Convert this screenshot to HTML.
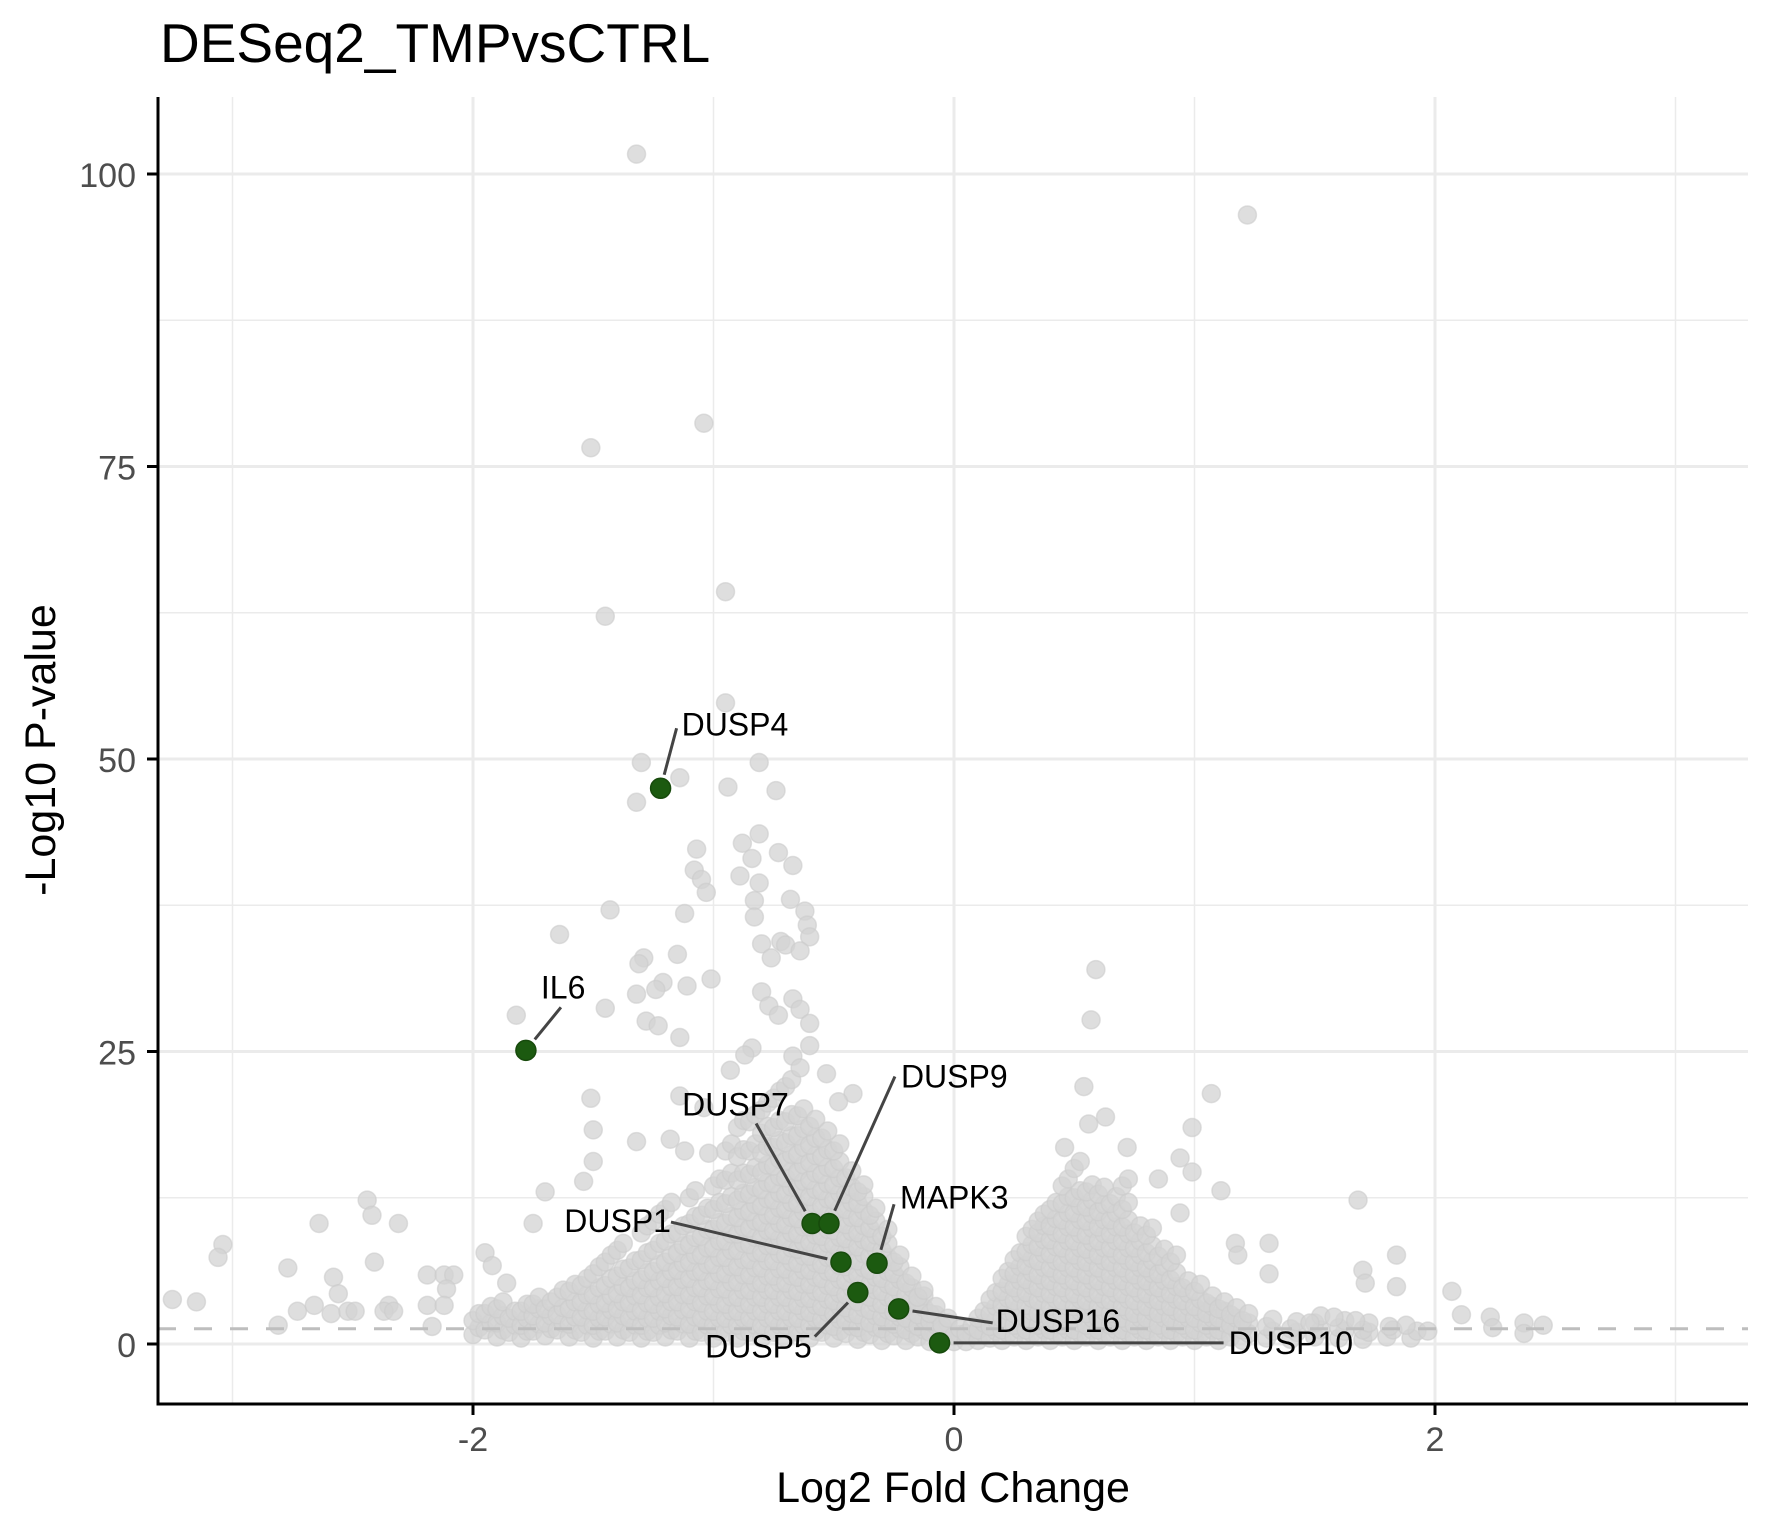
<!DOCTYPE html>
<html><head><meta charset="utf-8"><style>
html,body{margin:0;padding:0;background:#fff}
svg{display:block}
text{font-family:"Liberation Sans",Arial,sans-serif}
</style></head><body>
<svg id="chart" width="1771" height="1535" viewBox="0 0 1771 1535" xmlns="http://www.w3.org/2000/svg">
<text x="160" y="62" font-size="55" fill="#000">DESeq2_TMPvsCTRL</text>
<g id="grid"></g>
<g id="pts"></g>
<g id="hl"></g>
<g id="axes"></g>
<text x="953" y="1502" font-size="43" text-anchor="middle" fill="#000">Log2 Fold Change</text>
<text transform="translate(55,750) rotate(-90)" font-size="43" text-anchor="middle" fill="#000">-Log10 P-value</text>
</svg>
<script>
const xTicks=[-2,0,2];
const xMinor=[-3,-1,1,3];
const yTicks=[0,25,50,75,100];
const yMinor=[12.5,37.5,62.5,87.5];
const pThreshold=1.3;
const outlierX=[-1.32,1.22,-1.04,-1.51,-0.95,-1.45,-0.95,-0.81,-1.30,-0.94,-0.74,-1.32,-1.14,-0.81,-1.07,-0.88,-0.73,-0.84,-0.67,-1.08,-1.05,-0.81,-0.89,-1.03,-0.83,-0.68,-1.43,-1.12,-0.62,-0.83,-0.61,-1.64,-0.60,-0.80,-0.72,-0.70,-1.15,-1.29,-1.31,-0.64,-0.76,0.59,-1.21,-1.01,-1.32,-1.11,-1.24,-0.80,-0.67,-1.45,-1.82,0.57,-0.77,-0.64,-0.60,-1.28,-1.23,-1.14,-0.73,-0.60,-0.84,-0.87,-0.67,-0.93,-0.53,-0.64,0.54,1.07,-0.42,-1.51,-1.14,-1.04,-0.48,0.63,0.56,0.99,-1.50,-1.32,-1.18,-1.12,0.46,0.72,0.94,-1.50,-1.02,0.99,-1.54,0.85,-1.70,1.11,1.68,-2.44,-2.42,-2.31,-2.64,-1.75,0.94,1.17,1.31,-3.04,-3.06,-2.41,-2.77,1.18,1.70,1.84,1.71,1.84,2.07,1.31,-3.25,-3.15,-2.58,-2.56,-2.81,-2.73,-2.66,-2.59,-2.52,-2.49,-2.35,-2.37,-2.33,-2.19,-2.12,-2.08,-2.11,-2.19,-2.12,-1.95,-1.92,-1.86,-2.17,2.11,2.23,2.24,2.37,2.45,2.37,1.97,1.81,1.88,1.58,1.67,1.48];
const outlierY=[101.7,96.5,78.7,76.6,64.3,62.2,54.8,49.7,49.7,47.6,47.3,46.3,48.4,43.6,42.3,42.8,42,41.5,40.9,40.5,39.7,39.4,40,38.6,37.9,38,37.1,36.8,37,36.5,35.8,35,34.8,34.2,34.4,34.1,33.3,33,32.5,33.6,33,32,30.9,31.2,29.9,30.6,30.3,30.1,29.5,28.7,28.1,27.7,28.9,28.6,27.4,27.6,27.2,26.2,28.1,25.5,25.3,24.7,24.6,23.4,23.1,23.6,22,21.4,21.4,21,21.2,20.2,20.7,19.4,18.8,18.5,18.3,17.3,17.5,16.5,16.8,16.8,15.9,15.6,16.3,14.7,13.9,14.1,13,13.1,12.3,12.3,11,10.3,10.3,10.3,11.2,8.6,8.6,8.5,7.4,7,6.5,7.6,6.3,7.6,5.2,4.9,4.5,6,3.8,3.6,5.7,4.3,1.6,2.8,3.3,2.6,2.8,2.8,3.3,2.8,2.8,5.9,5.9,5.9,4.7,3.3,3.3,7.8,6.7,5.2,1.5,2.5,2.3,1.4,1.8,1.6,0.9,1.1,1.5,1.6,2.3,2,1.8];
const colX=[-2.0,-1.95,-1.9,-1.85,-1.8,-1.75,-1.7,-1.65,-1.6,-1.55,-1.5,-1.45,-1.4,-1.35,-1.3,-1.25,-1.2,-1.15,-1.1,-1.05,-1.0,-0.95,-0.9,-0.85,-0.8,-0.75,-0.7,-0.65,-0.6,-0.55,-0.5,-0.45,-0.4,-0.35,-0.3,-0.25,-0.2,-0.15,-0.1,-0.05,0.0,0.05,0.1,0.15,0.2,0.25,0.3,0.35,0.4,0.45,0.5,0.55,0.6,0.65,0.7,0.75,0.8,0.85,0.9,0.95,1.0,1.05,1.1,1.15,1.2,1.3,1.4,1.5,1.6,1.7,1.8,1.9];
const colY=[[0.8,2.0],[1.2,2.6],[0.6,1.8,3.0],[1.0,2.2],[0.5,1.6,2.8],[1.1,2.4,3.4],[0.7,1.8,3.0],[1.2,2.5,4.0],[0.6,1.7,3.0,4.5],[1.0,2.3,3.6,5.0],[0.5,1.6,2.8,4.2,6.0],[1.1,2.3,3.5,5.0,7.0],[0.6,1.8,3.0,4.3,5.8,8.0],[1.0,2.2,3.5,4.8,6.5],[0.5,1.6,2.9,4.2,5.5,7.2,9.5],[1.0,2.2,3.4,4.8,6.2,8.0,10.5],[0.6,1.8,3.0,4.3,5.6,7.0,8.8,11.5],[1.1,2.3,3.6,4.9,6.3,7.8,9.5],[0.5,1.7,3.0,4.2,5.6,7.0,8.5,10.3,12.5],[1.0,2.2,3.5,4.8,6.2,7.6,9.2,11.0],[0.5,1.6,2.8,4.1,5.4,6.8,8.2,9.8,11.5,13.5],[1.0,2.2,3.4,4.7,6.0,7.4,8.8,10.3,12.0,14.0,16.5],[0.5,1.6,2.8,4.0,5.3,6.6,8.0,9.4,10.8,12.3,14.0,16.0,18.5],[1.0,2.2,3.4,4.6,5.9,7.2,8.5,9.9,11.3,12.8,14.5,16.5,19.0],[0.5,1.6,2.8,4.0,5.2,6.5,7.8,9.1,10.4,11.8,13.2,14.7,16.3,18.0,20.0],[1.0,2.2,3.4,4.6,5.8,7.1,8.4,9.7,11.0,12.3,13.7,15.2,16.8,18.5,21.0],[0.5,1.6,2.8,4.0,5.2,6.4,7.6,8.9,10.2,11.5,12.8,14.2,15.6,17.2,19.0,22.0],[1.0,2.2,3.3,4.5,5.7,6.9,8.1,9.4,10.7,12.0,13.3,14.7,16.2,17.8,19.5],[0.5,1.6,2.7,3.9,5.1,6.3,7.5,8.7,10.0,11.3,12.6,14.0,15.5,17.0,18.6],[1.0,2.1,3.2,4.4,5.6,6.8,8.0,9.2,10.5,11.8,13.1,14.5,16.0,17.6],[0.5,1.5,2.6,3.7,4.9,6.1,7.3,8.5,9.7,11.0,12.3,13.6,15.0,16.5],[0.9,2.0,3.1,4.2,5.4,6.6,7.8,9.0,10.2,11.5,12.8,14.2],[0.4,1.4,2.5,3.6,4.7,5.9,7.1,8.3,9.5,10.8,12.0,13.0],[0.8,1.8,2.9,4.0,5.1,6.3,7.5,8.7,9.9,11.0],[0.3,1.3,2.3,3.4,4.5,5.6,6.8,8.0,9.2],[0.7,1.7,2.7,3.8,4.9,6.0,7.0],[0.3,1.2,2.2,3.2,4.2,5.2],[0.6,1.5,2.5,3.5,4.0],[0.2,1.0,1.9,2.6],[0.4,1.2,1.6],[0.2,0.7],[0.2,0.9],[0.3,1.2,2.2],[0.5,1.5,2.6,3.8],[0.3,1.2,2.2,3.3,4.5,5.6],[0.6,1.6,2.6,3.7,4.8,6.0,7.2],[0.3,1.2,2.2,3.3,4.4,5.5,6.7,7.9,9.2],[0.6,1.6,2.6,3.7,4.8,5.9,7.1,8.3,9.5,10.5],[0.3,1.2,2.2,3.2,4.3,5.4,6.5,7.7,8.9,10.1,11.5],[0.6,1.6,2.6,3.7,4.8,5.9,7.0,8.2,9.4,10.6,12.0,13.5],[0.3,1.2,2.2,3.2,4.3,5.4,6.5,7.6,8.8,10.0,11.2,12.5,15.0],[0.6,1.6,2.6,3.7,4.8,5.9,7.0,8.1,9.3,10.5,11.7,13.0],[0.3,1.2,2.2,3.2,4.3,5.4,6.5,7.6,8.8,10.0,11.3,12.8],[0.6,1.6,2.6,3.7,4.8,5.9,7.0,8.2,9.4,10.6,12.0],[0.3,1.2,2.2,3.2,4.3,5.4,6.5,7.6,8.8,10.0,11.5,13.5],[0.6,1.6,2.6,3.7,4.8,5.9,7.0,8.2,9.5],[0.3,1.2,2.2,3.2,4.3,5.4,6.5,7.8,9.3],[0.6,1.6,2.6,3.7,4.8,6.0,7.5],[0.3,1.2,2.2,3.2,4.3,5.5,7.0],[0.6,1.6,2.6,3.7,4.8],[0.3,1.2,2.2,3.2,4.5],[0.6,1.6,2.6,3.5],[0.3,1.2,2.2,3.0],[0.6,1.6,2.5],[0.3,1.2,2.0],[0.5,1.5],[0.4,1.3],[0.6,1.8],[0.5,1.4],[0.4,1.2],[0.6],[0.5]];
const geneNames=["DUSP4","IL6","DUSP7","DUSP9","DUSP1","MAPK3","DUSP5","DUSP16","DUSP10"];
const geneX=[-1.22,-1.78,-0.59,-0.52,-0.47,-0.32,-0.40,-0.23,-0.06];
const geneY=[47.5,25.1,10.3,10.3,7.0,6.9,4.4,3.0,0.1];
// label layout (pixel offsets relative to point: text x, text y, line end x, line end y, anchor)
const labelLayout=[[21,-53,16,-60,"start"],[15,-52,35,-43,"start"],[-130,-108,-56,-100,"start"],[72,-136,66,-147,"start"],[-170,-30,-170,-40,"end"],[23,-55,17,-59,"start"],[-46,65,-43,44,"end"],[97,23,94,14,"start"],[289,11,284,0,"start"]];

const NS="http://www.w3.org/2000/svg";
const X0=158,X1=1748,Y0=97,Y1=1404;
const xs=v=>954+v*240.5;
const ys=v=>1344-v*11.7;
function mk(tag,attrs,parent){const e=document.createElementNS(NS,tag);for(const k in attrs)e.setAttribute(k,attrs[k]);parent.appendChild(e);return e;}
const grid=document.getElementById('grid');
mk('rect',{x:X0,y:Y0,width:X1-X0,height:Y1-Y0,fill:'#fff'},grid);
xMinor.forEach(v=>{const l=mk('line',{x1:xs(v),x2:xs(v),y1:Y0,y2:Y1,stroke:'#ebebeb','stroke-width':1.5},grid);

});
yMinor.forEach(v=>{const l=mk('line',{x1:X0,x2:X1,y1:ys(v),y2:ys(v),stroke:'#ebebeb','stroke-width':1.5},grid);

});
xTicks.forEach(v=>{const l=mk('line',{x1:xs(v),x2:xs(v),y1:Y0,y2:Y1,stroke:'#ebebeb','stroke-width':3},grid);

});
yTicks.forEach(v=>{const l=mk('line',{x1:X0,x2:X1,y1:ys(v),y2:ys(v),stroke:'#ebebeb','stroke-width':3},grid);

});

const pts=document.getElementById('pts');
function gray(x,y){const c=mk('circle',{cx:xs(x),cy:ys(y),r:9,fill:'#d3d3d3','fill-opacity':0.75,stroke:'#cccccc','stroke-opacity':0.6,'stroke-width':1.5},pts);

}
colX.forEach((x,i)=>colY[i].forEach(y=>{gray(x,y);gray(x+0.025,y+0.6);}));
outlierX.forEach((x,i)=>gray(x,outlierY[i]));

const th=mk('line',{x1:X0,x2:X1,y1:ys(pThreshold),y2:ys(pThreshold),stroke:'#bebebe','stroke-width':3,'stroke-dasharray':'18 18'},pts);



const hl=document.getElementById('hl');
geneNames.forEach((g,i)=>{const px=xs(geneX[i]),py=ys(geneY[i]);const L=labelLayout[i];
const d=Math.hypot(L[2],L[3]);
const ln=mk('line',{x1:px+14*L[2]/d,y1:py+14*L[3]/d,x2:px+L[2],y2:py+L[3],stroke:'#444','stroke-width':3},hl);


const c=mk('circle',{cx:px,cy:py,r:10,fill:'#1c5a10',stroke:'#174a0c','stroke-width':1.5},hl);


const t=mk('text',{x:px+L[0],y:py+L[1],'font-size':32,fill:'#000','text-anchor':L[4]},hl);t.textContent=g;

});

const ax=document.getElementById('axes');
const ya=mk('line',{x1:X0,x2:X0,y1:Y0,y2:Y1+1.5,stroke:'#000','stroke-width':3},ax);


const xa=mk('line',{x1:X0-1.5,x2:X1,y1:Y1,y2:Y1,stroke:'#000','stroke-width':3},ax);


xTicks.forEach(v=>{mk('line',{x1:xs(v),x2:xs(v),y1:Y1,y2:Y1+11,stroke:'#000','stroke-width':3},ax);
const t=mk('text',{x:xs(v),y:1451,'font-size':34,fill:'#4d4d4d','text-anchor':'middle'},ax);t.textContent=v;

});
yTicks.forEach(v=>{mk('line',{x1:X0-11,x2:X0,y1:ys(v),y2:ys(v),stroke:'#000','stroke-width':3},ax);
const t=mk('text',{x:136,y:ys(v)+13,'font-size':34,fill:'#4d4d4d','text-anchor':'end'},ax);t.textContent=v;

});
</script>
</body></html>
